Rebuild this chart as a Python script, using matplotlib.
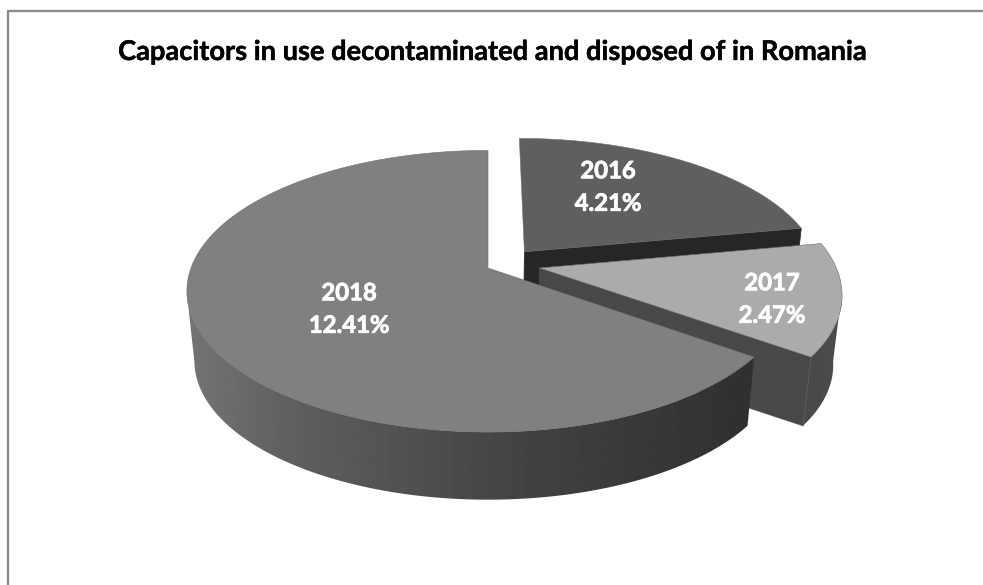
import numpy as np
import matplotlib
matplotlib.use('Agg')
import matplotlib.pyplot as plt
import matplotlib.patheffects as pe
from matplotlib.patches import Polygon

title = 'Capacitors in use decontaminated and disposed of in Romania'
years = ['2016', '2017', '2018']
values = [4.21, 2.47, 12.41]
value_labels = ['4.21%', '2.47%', '12.41%']

top_colors = ['#5f5f5f', '#ababab', '#808080']
# offset of each slice on the disc (x, y), in radii
explode = [(0.125, 0.121), (0.173, 0.0), (0.0, 0.0)]
label_pos = [(608, 187), (772, 299), (349, 309)]

# perspective of the tilted disc
CX, CY = 488, 268
FX, FY, K = 297, 137, 0.165
BOT_SCALE, BOT_FY, BOT_CY = 0.975, 135, 338


def project(x, y, bottom=False):
    w = 1 + K * y
    if bottom:
        return CX + BOT_SCALE * FX * x / w, BOT_CY - BOT_FY * y / w
    return CX + FX * x / w, CY - FY * y / w


fig = plt.figure(figsize=(9.83, 5.85), dpi=100)
ax = fig.add_axes([0, 0, 1, 1])
ax.axis('off')

# chart border, only left and top are in frame
ax.plot([7.5, 7.5, 983], [585, 10.5, 10.5], color='#8c8c8c', lw=1.7)

ax.text(491.5, 52, title, ha='center', va='center', fontsize=19.6,
        fontweight='bold', family='Lato', color='black',
        path_effects=[pe.withStroke(linewidth=0.3, foreground='black')])

# slice angles, clockwise from twelve o'clock
fractions = np.array(values) / sum(values)
ends = np.cumsum(fractions) * 2 * np.pi
starts = ends - fractions * 2 * np.pi

face_greys = [0x26, 0x48, 0x30]
side_stops = [
    None,
    ([790, 840], [0x48, 0x4c]),
    ([187, 300, 490, 620, 750], [0x74, 0x5e, 0x46, 0x3a, 0x30]),
]
ramp_x = np.arange(0, 983)

# back slice first so the nearer ones paint over it
for i in range(3):
    ox, oy = explode[i]
    t = np.linspace(starts[i], ends[i], 200)
    xs = ox + np.sin(t)
    ys = oy + np.cos(t)
    tx, ty = project(xs, ys)
    ax_t, ay_t = project(ox, oy)
    ax_b, ay_b = project(ox, oy, bottom=True)
    bx, by = project(xs, ys, bottom=True)

    # flat cut face on the clockwise side
    if i < 2:
        g = face_greys[i] / 255.0
        ax.add_patch(Polygon([(ax_t, ay_t), (tx[-1], ty[-1]), (bx[-1], by[-1]), (ax_b, ay_b)],
                             closed=True, fc=(g, g, g), ec=(g, g, g), lw=0.5, zorder=2 + i))

    # curved outer wall shaded left to right, the 2016 wall faces away
    if side_stops[i] is not None:
        front = np.cos(t) < -K
        wall = np.column_stack([np.r_[tx[front], bx[front][::-1]], np.r_[ty[front], by[front][::-1]]])
        sx, sv = side_stops[i]
        ramp = np.interp(ramp_x, sx, sv)[None, :]
        patch = Polygon(wall, closed=True, fc='none', ec='none', transform=ax.transData)
        ax.add_patch(patch)
        im = ax.imshow(ramp, cmap='gray', vmin=0, vmax=255, extent=(0, 983, 585, 0),
                       aspect='auto', zorder=2 + i, interpolation='bilinear')
        im.set_clip_path(patch)

    # corner where the 2017 cut meets its wall
    if i == 1:
        ax.plot([tx[-1], bx[-1]], [ty[-1], by[-1]], color='#5a5a5a', lw=0.6, zorder=2.2 + i)

    top = np.column_stack([np.r_[ax_t, tx], np.r_[ay_t, ty]])
    ax.add_patch(Polygon(top, closed=True, fc=top_colors[i], ec='#707070', lw=0.4, zorder=2.5 + i))

    ax.text(label_pos[i][0], label_pos[i][1], years[i] + '\n' + value_labels[i], ha='center', va='center',
            color='white', fontsize=17.2, fontweight='bold', family='Lato', linespacing=1.5, zorder=10,
            path_effects=[pe.withStroke(linewidth=0.6, foreground='white')])

ax.set_xlim(0, 983)
ax.set_ylim(585, 0)

fig.savefig('out.png', dpi=100)
